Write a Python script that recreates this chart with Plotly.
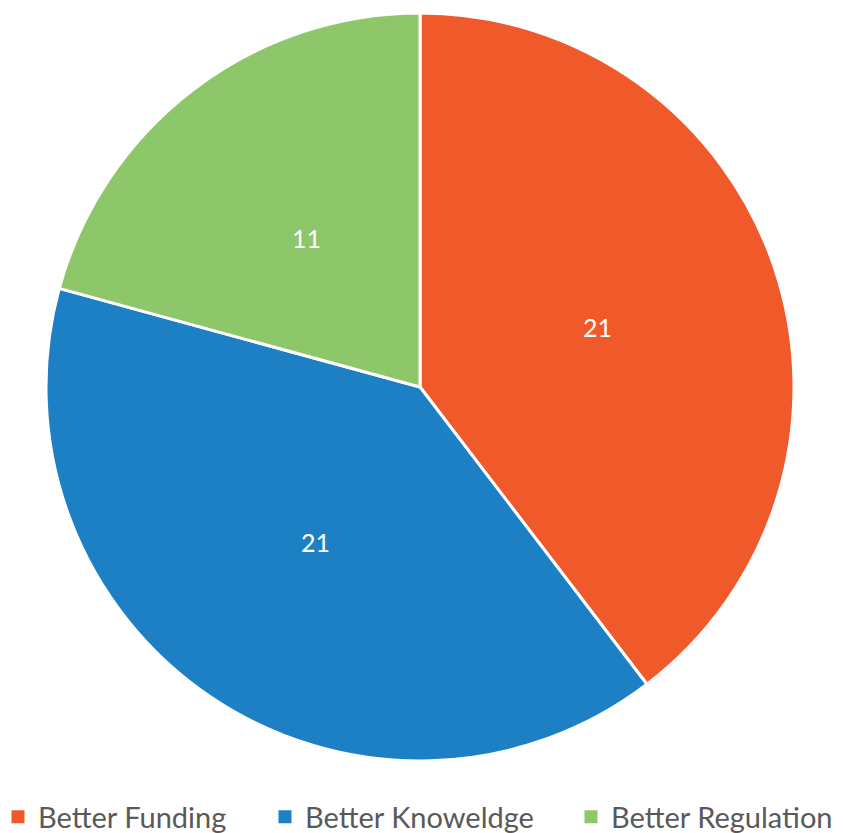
import math
import plotly.graph_objects as go

labels = ["Better Funding", "Better Knoweldge", "Better Regulation"]
values = [21, 21, 11]
colors = ["#F05A2B", "#1E80C4", "#8DC76A"]

W, H = 843, 833
CX, CY, R = 420, 387, 374          # pie centre / radius in px
LEGEND_TEXT_X = [40, 307, 613]      # where each legend label starts, px
FONT = "Lato, Open Sans, sans-serif"

fig = go.Figure()

fig.add_trace(go.Pie(
    labels=labels,
    values=values,
    sort=False,
    direction="clockwise",
    rotation=0,
    marker=dict(colors=colors, line=dict(color="white", width=3)),
    textinfo="none",
    showlegend=False,
    domain=dict(x=[(CX - R) / W, (CX + R) / W], y=[1 - (CY + R) / H, 1 - (CY - R) / H]),
    hoverinfo="label+value+percent",
))

# value labels at half radius, mid-angle of each slice
total = sum(values)
start = 0
for v in values:
    mid = (start + v / 2) / total * 2 * math.pi
    start += v
    fig.add_annotation(
        x=(CX + 0.5 * R * math.sin(mid)) / W,
        y=1 - (CY - 0.5 * R * math.cos(mid)) / H,
        xref="paper", yref="paper",
        xanchor="center", yanchor="middle",
        text=str(v), showarrow=False,
        font=dict(color="white", size=25, family=FONT),
    )

# one legend per category so the spacing matches the original
for i, (lab, col) in enumerate(zip(labels, colors)):
    lg = "legend" if i == 0 else f"legend{i + 1}"
    fig.add_trace(go.Scatter(
        x=[None], y=[None], mode="markers", name=lab,
        marker=dict(symbol="square", size=13, color=col),
        legend=lg, showlegend=True, hoverinfo="skip",
    ))
    fig.update_layout({lg: dict(
        x=(LEGEND_TEXT_X[i] - 42) / W,
        xanchor="left",
        y=1 - 817 / H,
        yanchor="middle",
        bgcolor="rgba(0,0,0,0)",
        font=dict(size=29, color="#595959", family=FONT),
    )})

fig.update_layout(
    width=W,
    height=H,
    margin=dict(l=0, r=0, t=0, b=0, autoexpand=False),
    paper_bgcolor="white",
    plot_bgcolor="white",
    xaxis=dict(visible=False),
    yaxis=dict(visible=False),
)

# drop the browser's default 8px body margin so the figure fills the window
fig.write_html("out.html", config={"displayModeBar": False},
               post_script="document.body.style.margin='0';")
